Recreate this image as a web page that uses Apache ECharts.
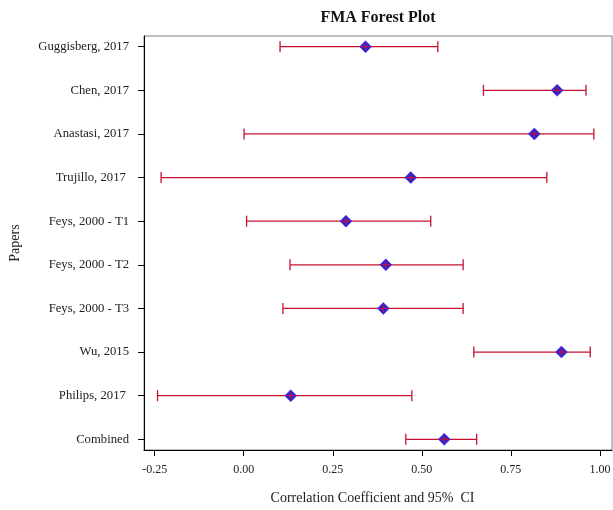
<!DOCTYPE html>
<html>
<head>
<meta charset="utf-8">
<script src="https://cdn.jsdelivr.net/npm/echarts@6/dist/echarts.min.js"></script>
<style>html,body{margin:0;padding:0;background:#fff;}#chart{width:613px;height:510px;}</style>
</head>
<body>
<div id="chart"></div>
<script>
const papers = ['Guggisberg, 2017','Chen, 2017','Anastasi, 2017','Trujillo, 2017 ','Feys, 2000 - T1','Feys, 2000 - T2','Feys, 2000 - T3','Wu, 2015','Philips, 2017 ','Combined'];
const estimate = [0.342,0.880,0.816,0.469,0.287,0.399,0.392,0.892,0.132,0.563];
const lower = [0.102,0.673,0.001,-0.232,0.008,0.130,0.110,0.646,-0.242,0.455];
const upper = [0.545,0.961,0.983,0.851,0.525,0.616,0.616,0.973,0.472,0.654];
const xTicks = [-0.25,0,0.25,0.5,0.75,1.0];
const titleText = 'FMA Forest Plot';
const xName = 'Correlation Coefficient and 95%  CI';
const yName = 'Papers';

const FONT = "'Liberation Serif', 'Times New Roman', serif";
const RED = '#c8102e';
const BLUE = '#2f22d8';

const rows = papers.map((p,i)=>[i+1, lower[i], estimate[i], upper[i]]);
const yTicks = papers.map((p,i)=>i+1);

const chart = echarts.init(document.getElementById('chart'));
chart.setOption({
  animation:false,
  backgroundColor:'#fff',
  graphic:[
    {type:'text', x:378, y:18, style:{text:titleText, fontFamily:FONT, fontSize:16, fontWeight:'bold', fill:'#111', align:'center', verticalAlign:'middle'}},
    {type:'text', x:372.5, y:498, style:{text:xName, fontFamily:FONT, fontSize:14, fill:'#222', align:'center', verticalAlign:'middle'}}
  ],
  grid:{left:144, right:1, top:36, bottom:60, show:true, borderColor:'#808080', borderWidth:1, outerBoundsMode:'none', containLabel:false},
  xAxis:{type:'value', min:-0.28, max:1.034,
    axisLine:{show:true, onZero:false, lineStyle:{color:'#000', width:1}},
    axisTick:{show:true, length:6, lineStyle:{color:'#000'}, customValues:xTicks},
    axisLabel:{fontFamily:FONT, fontSize:12, color:'#222', margin:14, customValues:xTicks,
      formatter:v=>Number(v).toFixed(2)},
    splitLine:{show:false}},
  yAxis:{type:'value', inverse:true, min:0.755, max:10.245,
    name:yName, nameLocation:'middle', nameGap:122,
    nameTextStyle:{fontFamily:FONT, fontSize:14, color:'#222'},
    axisLine:{show:true, onZero:false, lineStyle:{color:'#000', width:1}},
    axisTick:{show:true, length:6, lineStyle:{color:'#000'}, customValues:yTicks},
    axisLabel:{fontFamily:FONT, fontSize:12.7, color:'#222', margin:15, customValues:yTicks,
      formatter:v=>papers[Math.round(v)-1] || ''},
    splitLine:{show:false}},
  series:[{
    type:'custom',
    data:rows,
    encode:{x:[1,2,3], y:0},
    renderItem:function(params, api){
      const y = api.value(0);
      const pL = api.coord([api.value(1), y]);
      const pE = api.coord([api.value(2), y]);
      const pR = api.coord([api.value(3), y]);
      const cap = 5.5, d = 6;
      const ls = {stroke:RED, lineWidth:1.3};
      return {type:'group', children:[
        {type:'line', shape:{x1:pL[0], y1:pL[1], x2:pR[0], y2:pR[1]}, style:ls},
        {type:'line', shape:{x1:pL[0], y1:pL[1]-cap, x2:pL[0], y2:pL[1]+cap}, style:ls},
        {type:'line', shape:{x1:pR[0], y1:pR[1]-cap, x2:pR[0], y2:pR[1]+cap}, style:ls},
        {type:'polygon', shape:{points:[[pE[0],pE[1]-d],[pE[0]+d,pE[1]],[pE[0],pE[1]+d],[pE[0]-d,pE[1]]]},
          style:{fill:BLUE, stroke:'#3a2ae0', lineWidth:0.5}},
        {type:'line', shape:{x1:pE[0]-4, y1:pE[1], x2:pE[0]+4, y2:pE[1]}, style:{stroke:RED, lineWidth:1.2}},
        {type:'line', shape:{x1:pE[0], y1:pE[1]-3.5, x2:pE[0], y2:pE[1]+3.5}, style:{stroke:RED, lineWidth:1.2}}
      ]};
    }
  }]
});
</script>
</body>
</html>
